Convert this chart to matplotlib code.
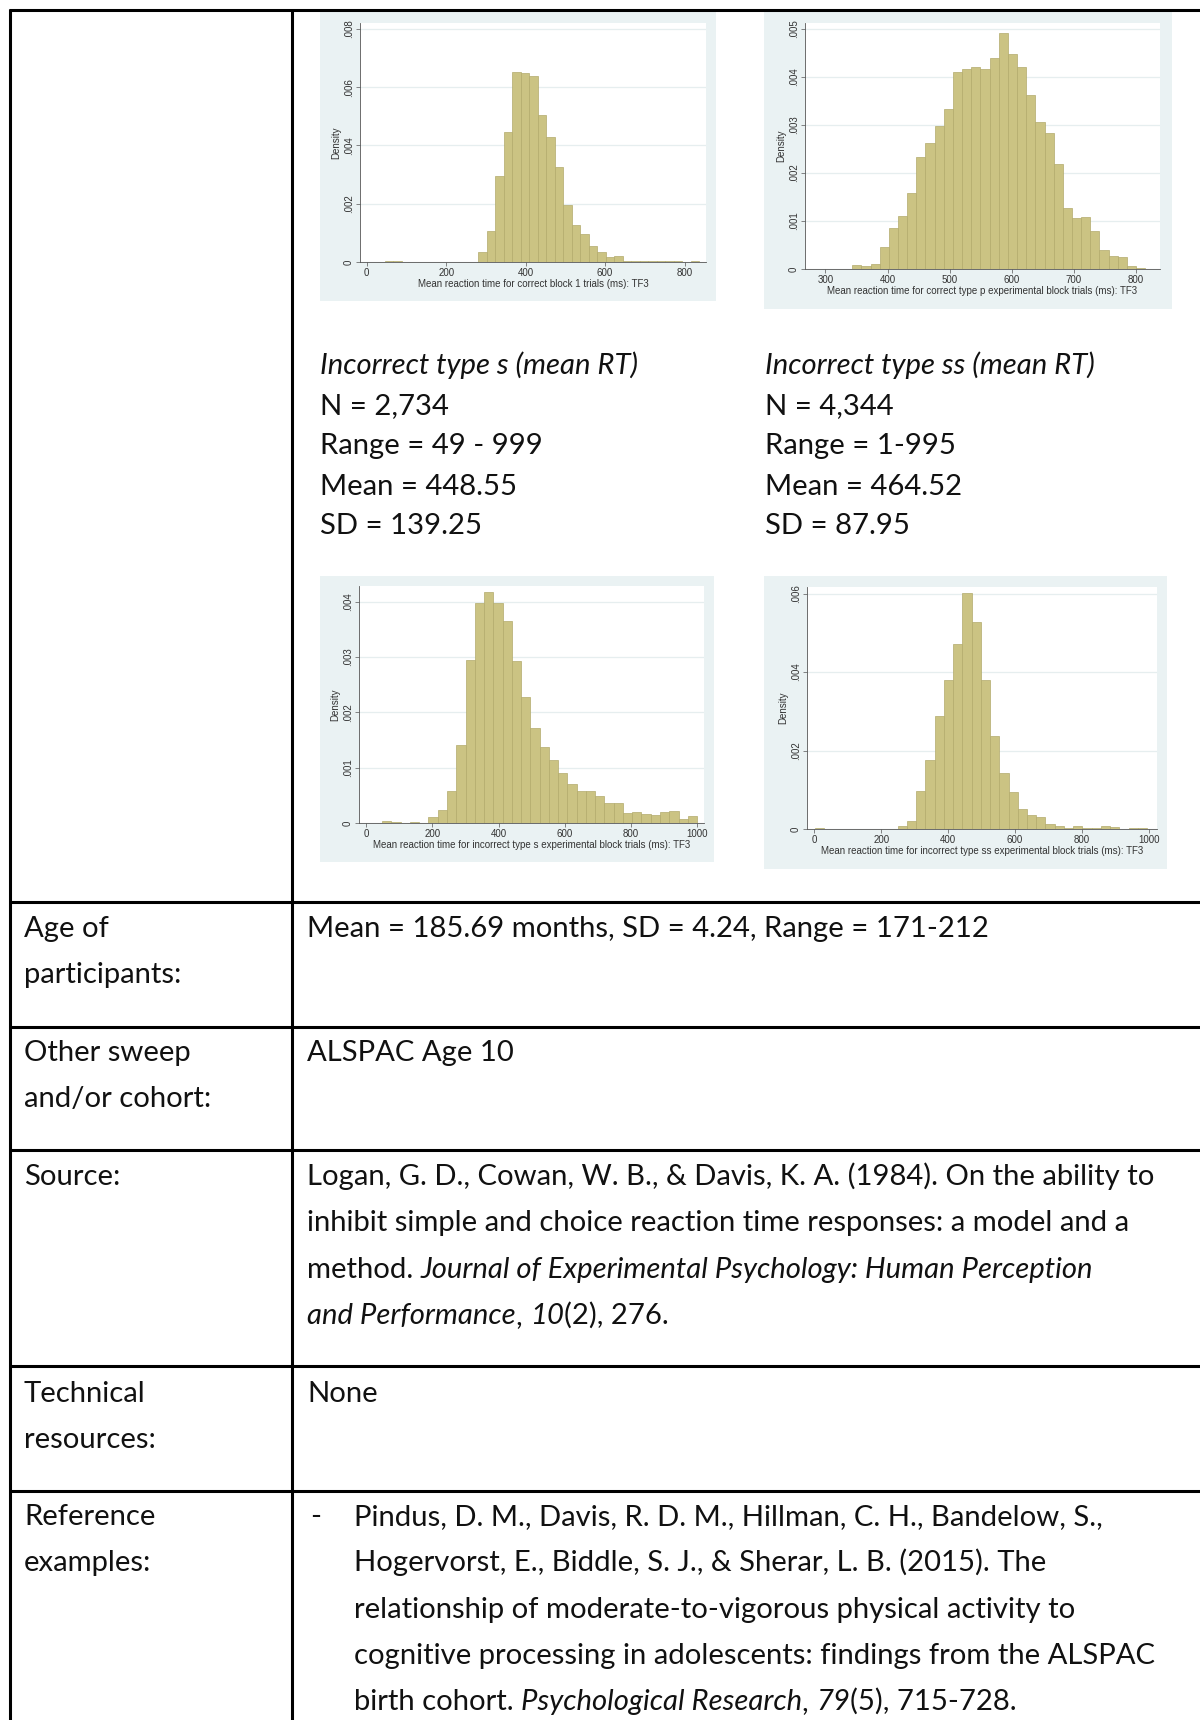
import numpy as np
import matplotlib
matplotlib.use("Agg")
import matplotlib.pyplot as plt
from matplotlib.patches import Rectangle

# ---------------- data ----------------
# Histogram 1: correct block 1 trials
h1_range = (45.2, 837.0)
h1_density = [0.02, 0.02, 0, 0, 0, 0, 0, 0, 0.01, 0.01, 0.01, 0.33, 1.08, 2.95,
              4.45, 6.52, 6.48, 6.37, 5.06, 4.28, 3.25, 1.95, 1.26, 0.97, 0.56,
              0.33, 0.16, 0.21, 0.02, 0.05, 0.04, 0.02, 0.03, 0.03, 0.02, 0.01, 0.03]
h1_xticks = [0, 200, 400, 600, 800]
h1_yticks = [0, 0.002, 0.004, 0.006, 0.008]
h1_xlabel = "Mean reaction time for correct block 1 trials (ms): TF3"

# Histogram 2: correct type p experimental block trials
h2_range = (284.0, 830.0)
h2_density = [0.01, 0, 0, 0.01, 0.08, 0.07, 0.10, 0.45, 0.85, 1.11, 1.59, 2.33,
              2.62, 2.98, 3.34, 4.10, 4.17, 4.21, 4.17, 4.40, 4.92, 4.48, 4.21,
              3.62, 3.06, 2.83, 2.18, 1.28, 1.07, 1.09, 0.79, 0.40, 0.27, 0.24,
              0.06, 0.03, 0.01]
h2_xticks = [300, 400, 500, 600, 700, 800]
h2_yticks = [0, 0.001, 0.002, 0.003, 0.004, 0.005]
h2_xlabel = "Mean reaction time for correct type p experimental block trials (ms): TF3"

# Histogram 3: incorrect type s experimental block trials
h3_range = (49.0, 999.0)
h3_density = [0.03, 0.01, 0, 0.01, 0, 0.10, 0.23, 0.58, 1.40, 2.95, 3.97, 4.18,
              3.97, 3.64, 2.93, 2.27, 1.72, 1.37, 1.13, 0.91, 0.70, 0.57, 0.58,
              0.48, 0.37, 0.36, 0.18, 0.19, 0.17, 0.14, 0.19, 0.22, 0.07, 0.12]
h3_xticks = [0, 200, 400, 600, 800, 1000]
h3_yticks = [0, 0.001, 0.002, 0.003, 0.004]
h3_xlabel = "Mean reaction time for incorrect type s experimental block trials (ms): TF3"

# Histogram 4: incorrect type ss experimental block trials
h4_range = (1.0, 995.0)
h4_density = [0.03, 0, 0, 0, 0, 0.01, 0.01, 0.005, 0.01, 0.08, 0.21, 0.96, 1.77,
              2.89, 3.81, 4.72, 6.01, 5.28, 3.79, 2.38, 1.43, 0.94, 0.51, 0.36,
              0.31, 0.14, 0.07, 0.025, 0.07, 0.03, 0.025, 0.07, 0.06, 0.01, 0.015,
              0.02]
h4_xticks = [0, 200, 400, 600, 800, 1000]
h4_yticks = [0, 0.002, 0.004, 0.006]
h4_xlabel = "Mean reaction time for incorrect type ss experimental block trials (ms): TF3"

stats_left = ["N = 2,734", "Range = 49 - 999", "Mean = 448.55", "SD = 139.25"]
stats_left_title = "Incorrect type s (mean RT)"
stats_right = ["N = 4,344", "Range = 1-995", "Mean = 464.52", "SD = 87.95"]
stats_right_title = "Incorrect type ss (mean RT)"

row_labels = [["Age of", "participants:"],
              ["Other sweep", "and/or cohort:"],
              ["Source:"],
              ["Technical", "resources:"],
              ["Reference", "examples:"]]

age_text = "Mean = 185.69 months, SD = 4.24, Range = 171-212"
sweep_text = "ALSPAC Age 10"
source_lines = [
    [("Logan, G. D., Cowan, W. B., & Davis, K. A. (1984). On the ability to", "normal")],
    [("inhibit simple and choice reaction time responses: a model and a", "normal")],
    [("method. ", "normal"), ("Journal of Experimental Psychology: Human Perception", "italic")],
    [("and Performance", "italic"), (", ", "normal"), ("10", "italic"), ("(2), 276.", "normal")],
]
tech_text = "None"
ref_lines = [
    [("Pindus, D. M., Davis, R. D. M., Hillman, C. H., Bandelow, S.,", "normal")],
    [("Hogervorst, E., Biddle, S. J., & Sherar, L. B. (2015). The", "normal")],
    [("relationship of moderate-to-vigorous physical activity to", "normal")],
    [("cognitive processing in adolescents: findings from the ALSPAC", "normal")],
    [("birth cohort. ", "normal"), ("Psychological Research", "italic"), (", ", "normal"),
     ("79", "italic"), ("(5), 715-728.", "normal")],
]

# ---------------- figure ----------------
W, H = 1200, 1720
fig = plt.figure(figsize=(12, 17.2), dpi=100)
fig.patch.set_facecolor("white")
base = fig.add_axes([0, 0, 1, 1])
base.set_xlim(0, W)
base.set_ylim(H, 0)
base.axis("off")
renderer = fig.canvas.get_renderer()

FONT = "Lato"
TXT = "#111111"


def adv(s, size, style="normal"):
    t1 = base.text(0, 0, "|" + s + "|", fontsize=size, family=FONT, style=style)
    t2 = base.text(0, 0, "||", fontsize=size, family=FONT, style=style)
    w = t1.get_window_extent(renderer).width - t2.get_window_extent(renderer).width
    t1.remove()
    t2.remove()
    return w


# fit main font so the body text spans about the same width as in the reference
FS = 1.025 * 20 * 664.0 / adv(age_text, 20)


def runs(x, yc, parts, size=None):
    size = size or FS
    yb = yc + 10
    for s, st in parts:
        base.text(x, yb, s, fontsize=size, family=FONT, style=st, color=TXT,
                  va="baseline", ha="left")
        x += adv(s, size, st)


# ---------------- table grid ----------------
LW = 2.2
grid_y = [902, 1027, 1150, 1366, 1491]
base.plot([8.5, W], [10, 10], color="black", lw=LW, solid_capstyle="butt")
for y in grid_y:
    base.plot([8.5, W], [y, y], color="black", lw=LW, solid_capstyle="butt")
base.plot([10, 10], [8.5, H], color="black", lw=LW, solid_capstyle="butt")
base.plot([292, 292], [8.5, H], color="black", lw=LW, solid_capstyle="butt")

# ---------------- text ----------------
LX, RX = 24, 307
row_centers = [927, 1051, 1175, 1392, 1515]
for lines, yc in zip(row_labels, row_centers):
    for i, s in enumerate(lines):
        runs(LX, yc + i * 46, [(s, "normal")])

runs(RX, 927, [(age_text, "normal")])
runs(RX, 1051, [(sweep_text, "normal")])
for i, parts in enumerate(source_lines):
    runs(RX, 1175 + i * 46.3, parts)
runs(RX, 1392, [(tech_text, "normal")])
runs(310, 1515, [("-", "normal")])
for i, parts in enumerate(ref_lines):
    runs(354, 1515 + i * 46.3, parts)

stat_y = [364, 404, 444, 485, 524]
for x0, title, vals in [(320, stats_left_title, stats_left),
                        (765, stats_right_title, stats_right)]:
    runs(x0, stat_y[0], [(title, "italic")])
    for s, yc in zip(vals, stat_y[1:]):
        runs(x0, yc, [(s, "normal")])

# ---------------- histograms ----------------
PANEL = "#eaf2f3"
FILL = "#cbc383"
EDGE = "#b2aa6c"
SMALL = "Liberation Sans"
GRAY = "#333333"
SFS = 7.0


def px_axes(l, t, r, b):
    return fig.add_axes([l / W, 1 - b / H, (r - l) / W, (b - t) / H])


def fmt(v):
    return "0" if v == 0 else ("%.3f" % v).lstrip("0")


specs = [
    dict(panel=(320, 12, 716, 301), plot=(360, 23, 706, 262), xlim=(-17, 854), ytop=0.0082,
         rng=h1_range, dens=h1_density, xt=h1_xticks, yt=h1_yticks, xl=h1_xlabel),
    dict(panel=(764, 12, 1172, 309), plot=(805, 23, 1160, 269), xlim=(267, 839), ytop=0.00512,
         rng=h2_range, dens=h2_density, xt=h2_xticks, yt=h2_yticks, xl=h2_xlabel),
    dict(panel=(320, 576, 714, 862), plot=(359, 586, 704, 823), xlim=(-21, 1020), ytop=0.00428,
         rng=h3_range, dens=h3_density, xt=h3_xticks, yt=h3_yticks, xl=h3_xlabel),
    dict(panel=(764, 576, 1167, 869), plot=(807, 587, 1157, 829), xlim=(-22, 1025), ytop=0.00617,
         rng=h4_range, dens=h4_density, xt=h4_xticks, yt=h4_yticks, xl=h4_xlabel),
]

for sp in specs:
    l, t, r, b = sp["panel"]
    base.add_patch(Rectangle((l, t), r - l, b - t, facecolor=PANEL, edgecolor="none", zorder=0))
    ax = px_axes(*sp["plot"])
    dens = np.array(sp["dens"]) * 1e-3
    edges = np.linspace(sp["rng"][0], sp["rng"][1], len(dens) + 1)
    ax.bar(edges[:-1], dens, width=np.diff(edges), align="edge", color=FILL,
           edgecolor=EDGE, linewidth=0.5, zorder=3)
    ax.set_xlim(*sp["xlim"])
    ax.set_ylim(0, sp["ytop"])
    ax.set_facecolor("white")
    for s in ["top", "right"]:
        ax.spines[s].set_visible(False)
    for s in ["left", "bottom"]:
        ax.spines[s].set_color("#555555")
        ax.spines[s].set_linewidth(0.6)
    ax.set_xticks(sp["xt"])
    ax.set_xticklabels([str(v) for v in sp["xt"]])
    ax.set_yticks(sp["yt"])
    ax.set_yticklabels([fmt(v) for v in sp["yt"]])
    ax.tick_params(axis="both", length=3, width=0.5, color="#555555", pad=1.5,
                   labelsize=SFS, labelcolor=GRAY)
    for lbl in ax.get_xticklabels() + ax.get_yticklabels():
        lbl.set_family(SMALL)
    for lbl in ax.get_yticklabels():
        lbl.set_rotation(90)
        lbl.set_va("center")
    ax.yaxis.grid(True, color="#e6eeef", lw=0.9, zorder=1)
    ax.set_axisbelow(True)
    ax.set_ylabel("Density", fontsize=SFS, family=SMALL, color=GRAY, labelpad=2)
    ax.set_xlabel(sp["xl"], fontsize=SFS, family=SMALL, color=GRAY, labelpad=0.5)

fig.savefig("out.png", dpi=100, facecolor="white")
